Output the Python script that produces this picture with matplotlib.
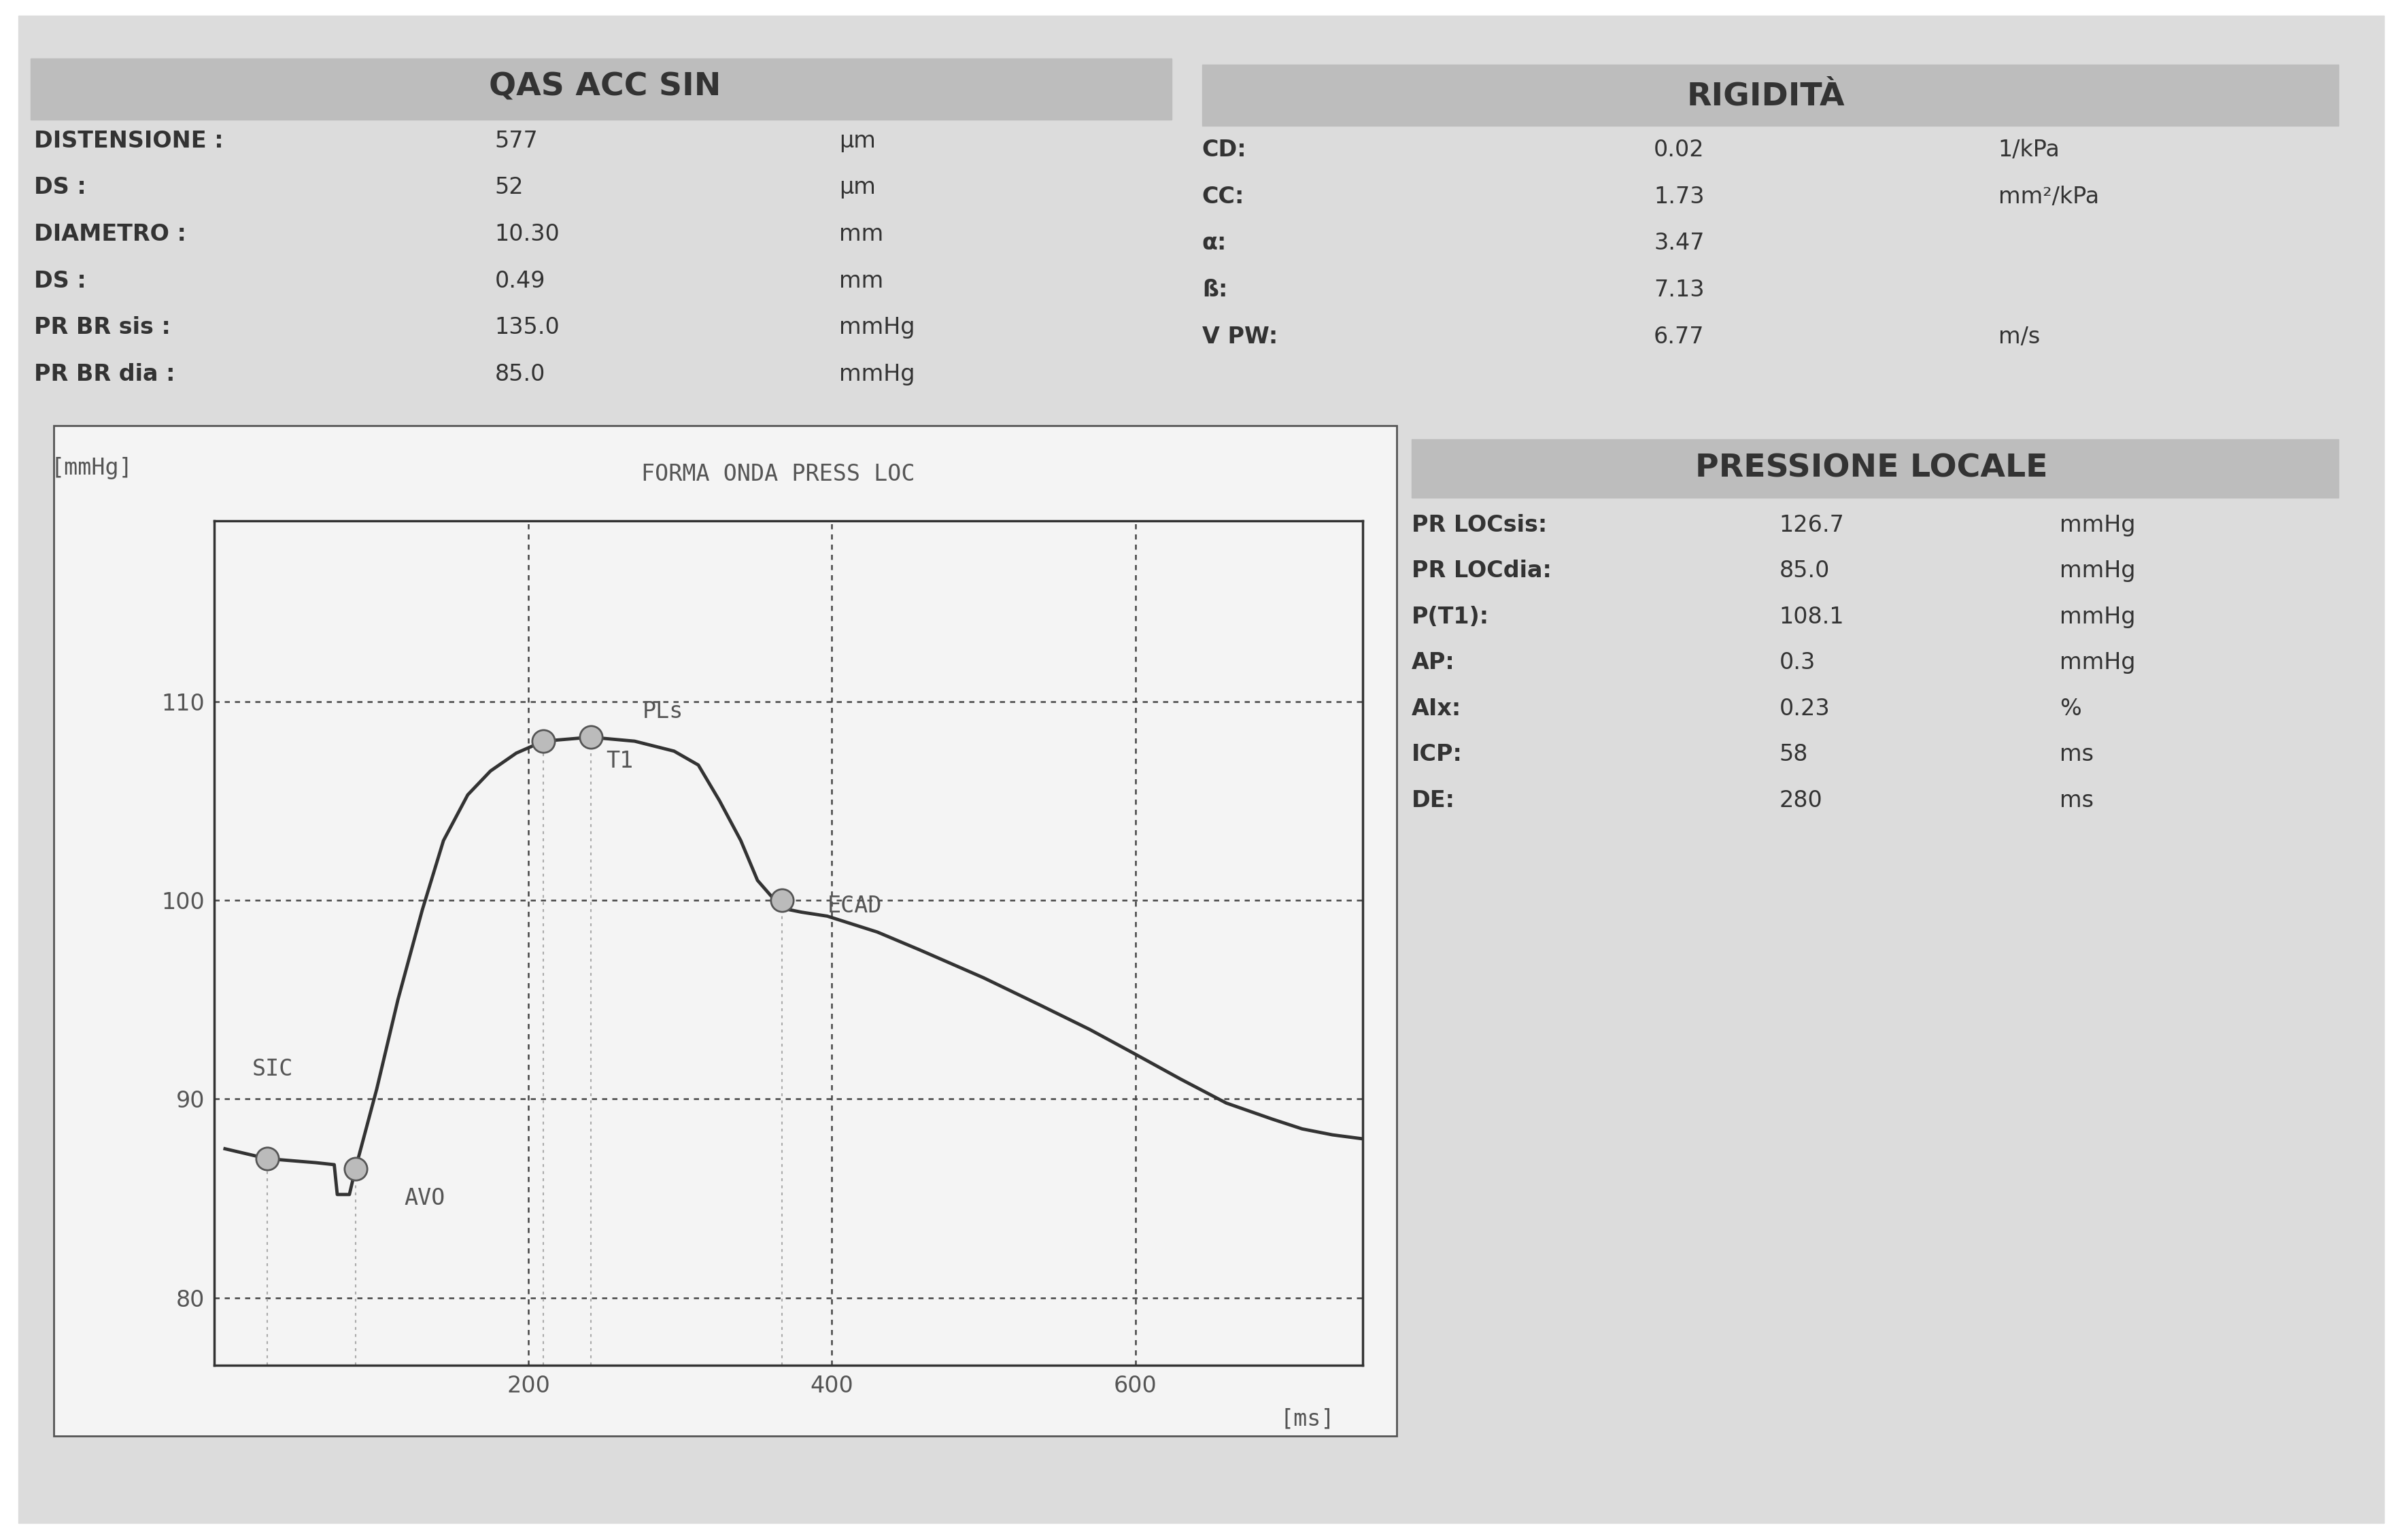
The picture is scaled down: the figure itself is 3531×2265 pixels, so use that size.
import matplotlib
matplotlib.use("Agg")
import matplotlib.pyplot as plt
from matplotlib.patches import Rectangle

t_ms = [0, 28, 60, 72, 74, 82, 86, 100, 114, 130, 144, 160, 175, 192, 210, 241, 270, 296, 312, 326, 340, 351, 367, 380, 397, 430, 458, 500, 538, 570, 599, 630, 660, 690, 710, 730, 750]
p_mmhg = [87.5, 87.0, 86.8, 86.7, 85.2, 85.2, 86.5, 90.5, 95.0, 99.5, 103.0, 105.3, 106.5, 107.4, 108.0, 108.2, 108.0, 107.5, 106.8, 105.0, 103.0, 101.0, 99.6, 99.4, 99.2, 98.4, 97.5, 96.1, 94.7, 93.5, 92.3, 91.0, 89.8, 89.0, 88.5, 88.2, 88.0]
marker_t = [28, 86, 210, 241, 367]
marker_p = [87.0, 86.5, 108.0, 108.2, 100.0]
marker_lbl = ["SIC", "AVO", "PLs", "T1", "ECAD"]

left_rows = [("DISTENSIONE :", "577", "µm"), ("DS :", "52", "µm"), ("DIAMETRO :", "10.30", "mm"),
             ("DS :", "0.49", "mm"), ("PR BR sis :", "135.0", "mmHg"), ("PR BR dia :", "85.0", "mmHg")]
rig_rows = [("CD:", "0.02", "1/kPa"), ("CC:", "1.73", "mm²/kPa"), ("α:", "3.47", ""), ("ß:", "7.13", ""), ("V PW:", "6.77", "m/s")]
loc_rows = [("PR LOCsis:", "126.7", "mmHg"), ("PR LOCdia:", "85.0", "mmHg"), ("P(T1):", "108.1", "mmHg"),
            ("AP:", "0.3", "mmHg"), ("AIx:", "0.23", "%"), ("ICP:", "58", "ms"), ("DE:", "280", "ms")]

W, H = 1568, 1006
fig = plt.figure(figsize=(35.31, 22.65), dpi=100)
fig.patch.set_facecolor("white")
bg = fig.add_axes([0, 0, 1, 1]); bg.set_xlim(0, W); bg.set_ylim(H, 0); bg.axis("off")
bg.add_patch(Rectangle((12, 10), 1545, 985, color="#dcdcdc"))
hdr = "#bdbdbd"; tc = "#333333"
bg.add_patch(Rectangle((20, 38), 745, 40, color=hdr))
bg.add_patch(Rectangle((785, 42), 742, 40, color=hdr))
bg.add_patch(Rectangle((922, 287), 605, 38, color=hdr))
bg.text(395, 57, "QAS ACC SIN", ha="center", va="center", fontsize=34, weight="bold", color=tc)
bg.text(1153, 63, "RIGIDITÀ", ha="center", va="center", fontsize=34, weight="bold", color=tc)
bg.text(1222, 306, "PRESSIONE LOCALE", ha="center", va="center", fontsize=34, weight="bold", color=tc)
for i, (a, b, c) in enumerate(left_rows):
    y = 92 + i * 30.5
    bg.text(22, y, a, fontsize=24, weight="bold", color=tc, va="center")
    bg.text(323, y, b, fontsize=24, color=tc, va="center")
    bg.text(548, y, c, fontsize=24, color=tc, va="center")
for i, (a, b, c) in enumerate(rig_rows):
    y = 98 + i * 30.5
    bg.text(785, y, a, fontsize=24, weight="bold", color=tc, va="center")
    bg.text(1080, y, b, fontsize=24, color=tc, va="center")
    bg.text(1305, y, c, fontsize=24, color=tc, va="center")
for i, (a, b, c) in enumerate(loc_rows):
    y = 343 + i * 30
    bg.text(922, y, a, fontsize=24, weight="bold", color=tc, va="center")
    bg.text(1162, y, b, fontsize=24, color=tc, va="center")
    bg.text(1345, y, c, fontsize=24, color=tc, va="center")
bg.add_patch(Rectangle((35, 278), 877, 660, facecolor="#f4f4f4", edgecolor="#555555", lw=2))
bg.text(33, 306, "[mmHg]", fontsize=24, family="DejaVu Sans Mono", color="#555555", va="center")
bg.text(508, 310, "FORMA ONDA PRESS LOC", ha="center", fontsize=24, family="DejaVu Sans Mono", color="#555555", va="center")
bg.text(836, 927, "[ms]", fontsize=24, family="DejaVu Sans Mono", color="#555555", va="center")

ax = fig.add_axes([140 / W, 1 - 892 / H, 750 / W, 552 / H])
ax.set_facecolor("#f4f4f4")
ax.set_xlim(-7, 750); ax.set_ylim(76.6, 119.1)
for s in ax.spines.values():
    s.set_linewidth(2.5); s.set_color("#333333")
ax.set_xticks([200, 400, 600]); ax.set_yticks([80, 90, 100, 110])
ax.tick_params(length=0, labelsize=24, labelcolor="#555555", pad=10)
ax.grid(True, ls=(0, (3, 3)), color="#444444", lw=1.8)
for xt, yp in zip(marker_t, marker_p):
    ax.plot([xt, xt], [76.6, yp], ls=(0, (2, 3)), color="#aaaaaa", lw=1.5)
ax.plot(t_ms, p_mmhg, color="#333333", lw=3.5)
ax.plot(marker_t, marker_p, "o", ms=24, mfc="#bbbbbb", mec="#555555", mew=2)
offs = [(-10, 4.5), (32, -1.5), (65, 1.5), (10, -1.2), (30, -0.3)]
for (dx, dy), xt, yp, l in zip(offs, marker_t, marker_p, marker_lbl):
    ax.text(xt + dx, yp + dy, l, fontsize=24, family="DejaVu Sans Mono", color="#555555", va="center")
fig.savefig("out.png", dpi=100)
